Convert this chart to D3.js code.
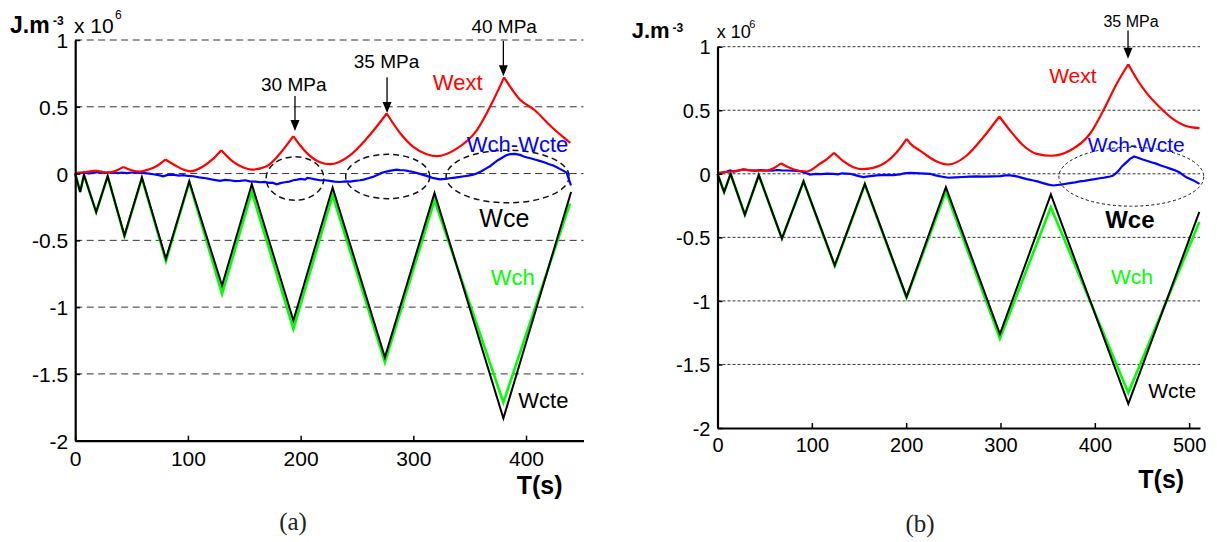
<!DOCTYPE html>
<html><head><meta charset="utf-8">
<script src="https://cdn.jsdelivr.net/npm/d3@7"></script>
<style>body{margin:0;background:#fff} svg{display:block}</style>
</head><body>
<svg id="chart" width="1217" height="542"></svg>
<script>
// ---------- data (time s, energy x 1e6 J.m^-3) ----------
const yTicks = [1, 0.5, 0, -0.5, -1, -1.5, -2];
const yTickLabels = ["1", "0.5", "0", "-0.5", "-1", "-1.5", "-2"];
const gridValues = [1, 0.5, 0, -0.5, -1, -1.5];
const xTicksA = [0, 100, 200, 300, 400];
const xTicksB = [0, 100, 200, 300, 400, 500];

// Panel (a)
const wcteA = [[0,0],[4.4,-0.138],[7.8,-0.01],[18.6,-0.288],[28.8,-0.02],[43.7,-0.463],[59.2,-0.03],[80.5,-0.638],[101.2,-0.058],[130.3,-0.838],[156.7,-0.08],[193.6,-1.1],[228.4,-0.105],[274.8,-1.375],[318.8,-0.145],[379.9,-1.833],[440,-0.138]];
const wchA = [[0,0],[4.4,-0.138],[7.8,-0.01],[18.6,-0.29],[28.8,-0.02],[43.7,-0.47],[59.2,-0.035],[80.5,-0.655],[101.2,-0.065],[130.3,-0.9],[156.7,-0.138],[193.6,-1.163],[228.4,-0.163],[274.8,-1.413],[318.8,-0.2],[379.9,-1.713],[439,-0.225]];
const wextA = [[0,0.005],[8,0.01],[18,0.022],[24,0.012],[29,0.008],[36,0.02],[42.7,0.05],[50,0.025],[57.5,0.015],[65,0.03],[72,0.055],[80,0.105],[90,0.055],[96,0.03],[101.9,0.017],[113.7,0.055],[122.5,0.112],[129.6,0.175],[140.3,0.087],[149.2,0.045],[156.6,0.03],[169.9,0.055],[181.7,0.15],[193.5,0.28],[199.5,0.212],[205.4,0.155],[217.2,0.085],[226,0.07],[243.8,0.137],[258.6,0.262],[276.4,0.45],[288.2,0.304],[300,0.2],[311.9,0.145],[320.8,0.13],[338.5,0.187],[356.3,0.324],[371,0.549],[380.5,0.72],[394.5,0.555],[407.8,0.474],[421.3,0.36],[434.9,0.26],[439.3,0.23]];
const wdiffA = [[0,0],[4,0.004],[8,0.006],[12,0.002],[16,0.005],[20,0.01],[24,0.012],[27,0.006],[30.9,0.01],[34,0.008],[38,0.004],[42,0.008],[45.7,0.004],[52,0.01],[59,0.005],[64,0.002],[69.3,-0.005],[74,-0.012],[78.2,-0.02],[82,-0.01],[87,-0.008],[92,-0.016],[96,-0.012],[100,-0.018],[104.8,-0.02],[110,-0.028],[116,-0.035],[122,-0.045],[128.5,-0.055],[133,-0.048],[137,-0.05],[142,-0.056],[146.3,-0.055],[151,-0.05],[155,-0.058],[160,-0.06],[164,-0.065],[168,-0.062],[172,-0.07],[175,-0.068],[178.8,-0.08],[182,-0.072],[186,-0.065],[190,-0.06],[193.5,-0.05],[197,-0.045],[200,-0.04],[204,-0.045],[206,-0.032],[208.3,-0.035],[212,-0.042],[217.2,-0.05],[222,-0.05],[226,-0.055],[230,-0.06],[235,-0.063],[240,-0.058],[244,-0.06],[248,-0.055],[252.7,-0.05],[256,-0.045],[260,-0.035],[264,-0.025],[267.5,-0.013],[272,0.005],[276,0.015],[280,0.022],[285.3,0.03],[288,0.026],[292,0.025],[296,0.018],[300,0.012],[305,0.0],[311.9,-0.017],[317,-0.032],[323.7,-0.043],[328,-0.04],[332,-0.035],[337,-0.03],[341.4,-0.025],[345,-0.02],[349,-0.015],[353,-0.008],[356.3,0.0],[360,0.015],[364,0.035],[368,0.055],[371,0.075],[375,0.1],[378,0.115],[382,0.135],[385.8,0.145],[390,0.148],[394.7,0.14],[398,0.128],[401,0.12],[404,0.115],[407.8,0.105],[412,0.095],[416,0.085],[420,0.072],[424.7,0.058],[430,0.035],[435.9,0.008],[439.9,-0.088]];

// Panel (b)
const wcteB = [[0,0],[7,-0.144],[13.9,0],[29,-0.322],[43.8,-0.01],[68.3,-0.51],[91.2,-0.06],[124.3,-0.72],[156.2,-0.079],[200.4,-0.969],[242.1,-0.105],[299.4,-1.262],[353.4,-0.163],[435.5,-1.81],[510.8,-0.30]];
const wchB = [[0,0],[7,-0.144],[13.9,0],[29,-0.322],[43.8,-0.01],[68.3,-0.51],[91.2,-0.06],[124.3,-0.725],[156.2,-0.085],[200.4,-0.975],[242.1,-0.14],[299.4,-1.296],[353.4,-0.263],[435.5,-1.723],[510.8,-0.38]];
const wextB = [[0,0.008],[16.8,0.02],[27.4,0.035],[39.8,0.025],[52.2,0.025],[60,0.045],[67.3,0.083],[74,0.055],[80.4,0.036],[94.6,0.018],[108.7,0.079],[116,0.115],[123.5,0.165],[133.4,0.099],[144,0.052],[154.6,0.036],[172.3,0.065],[190,0.17],[200.6,0.275],[204.1,0.24],[214.7,0.183],[221.8,0.144],[233,0.095],[244.7,0.073],[264.2,0.144],[281.8,0.288],[298.8,0.451],[310.1,0.341],[324.2,0.223],[338.4,0.157],[354.3,0.142],[373.7,0.183],[394.9,0.315],[409,0.498],[423.2,0.708],[435.5,0.862],[445,0.74],[455,0.635],[468,0.53],[485,0.42],[495,0.38],[503,0.365],[511,0.36]];
const wdiffB = [[0,0],[3,0.006],[6,0.012],[10,0.018],[13.3,0.026],[17,0.018],[20,0.02],[24,0.028],[27.4,0.034],[33,0.028],[40,0.025],[46,0.03],[52.2,0.026],[58,0.024],[63,0.03],[68,0.027],[73.4,0.026],[80,0.024],[87.5,0.02],[92,0.01],[98,-0.006],[104,0.0],[110,-0.002],[116,0.002],[122.8,0],[128,-0.004],[132,0.004],[136,0.002],[140.4,0],[146,-0.01],[150,-0.018],[154.6,-0.026],[160,-0.02],[168.8,-0.013],[174,-0.01],[180,-0.008],[186,-0.01],[193.5,-0.005],[198,0.004],[204.1,0.008],[210,0.006],[215,0.004],[220,0.002],[225.3,0],[230,-0.01],[235,-0.018],[240,-0.025],[244.7,-0.031],[252,-0.028],[260,-0.025],[267,-0.022],[274.8,-0.021],[282,-0.023],[292,-0.02],[300,-0.018],[305,-0.012],[310,-0.013],[316,-0.018],[322,-0.03],[328,-0.042],[334.8,-0.053],[340,-0.062],[346,-0.075],[351,-0.085],[356,-0.092],[360,-0.088],[364,-0.085],[368,-0.08],[373.7,-0.074],[379,-0.068],[384,-0.06],[389,-0.055],[394.9,-0.048],[400,-0.042],[405,-0.035],[410,-0.03],[416.1,-0.021],[419,-0.015],[421,-0.005],[424,0.015],[426.7,0.039],[429,0.06],[432,0.08],[435,0.1],[437.3,0.118],[441.7,0.136],[445,0.128],[450,0.115],[455,0.103],[460,0.091],[465,0.08],[470,0.065],[475,0.053],[480.5,0.039],[485,0.028],[490,0.01],[494,-0.012],[497,-0.027],[504,-0.05],[511,-0.079]];

// ---------- drawing ----------
const svg = d3.select("#chart");
const SANS = "'Liberation Sans', Arial, Helvetica, sans-serif";

function cuspPath(line, data) {
  // split at local maxima (cusps) and draw each arc smoothly
  const breaks = [0];
  for (let i = 1; i < data.length - 1; i++) {
    if (data[i][1] > data[i-1][1] && data[i][1] > data[i+1][1]) breaks.push(i);
  }
  breaks.push(data.length - 1);
  let d = "";
  for (let k = 0; k < breaks.length - 1; k++) {
    d += line(data.slice(breaks[k], breaks[k+1] + 1));
  }
  return d;
}

function drawPanel(cfg) {
  const x = d3.scaleLinear().domain(cfg.xDomain).range(cfg.xRange);
  const y = d3.scaleLinear().domain([-2, 1]).range(cfg.yRange);
  const g = svg.append("g");

  // grid
  g.selectAll("line.grid").data(gridValues).join("line")
    .attr("class", "grid")
    .attr("x1", x(0)).attr("x2", x(cfg.xDomain[1]))
    .attr("y1", d => y(d)).attr("y2", d => y(d))
    .attr("stroke", "#333").attr("stroke-width", 1)
    .attr("stroke-dasharray", cfg.gridDash);

  // ellipses
  g.selectAll("ellipse").data(cfg.ellipses).join("ellipse")
    .attr("cx", d => x(d[0])).attr("cy", d => y(d[1]))
    .attr("rx", d => x(d[0] + d[2]) - x(d[0]))
    .attr("ry", d => y(d[1] - d[3]) - y(d[1]))
    .attr("fill", "none").attr("stroke", "#111")
    .attr("stroke-width", cfg.ellipseWidth)
    .attr("stroke-dasharray", cfg.ellipseDash);

  const line = d3.line().x(d => x(d[0])).y(d => y(d[1]));
  const smooth = d3.line().x(d => x(d[0])).y(d => y(d[1])).curve(d3.curveMonotoneX);

  g.append("path").attr("d", line(cfg.wch)).attr("fill", "none")
    .attr("stroke", "#00ff00").attr("stroke-width", 2.6).attr("stroke-linejoin", "miter");
  g.append("path").attr("d", line(cfg.wcte)).attr("fill", "none")
    .attr("stroke", "#000").attr("stroke-width", 2).attr("stroke-linejoin", "miter");
  g.append("path").attr("d", line(cfg.wdiff)).attr("fill", "none")
    .attr("stroke", "#0000ff").attr("stroke-width", 2.2);
  g.append("path").attr("d", cuspPath(smooth, cfg.wext)).attr("fill", "none")
    .attr("stroke", "#ff0000").attr("stroke-width", 2.2);

  // axes
  const yAxis = d3.axisLeft(y).tickValues(yTicks)
    .tickFormat((d, i) => yTickLabels[i])
    .tickSizeInner(-5).tickSizeOuter(0).tickPadding(cfg.yPad);
  const ya = g.append("g").attr("transform", `translate(${x(0)},0)`).call(yAxis);
  const xAxis = d3.axisBottom(x).tickValues(cfg.xTicks)
    .tickFormat(d3.format("d"))
    .tickSizeInner(-5).tickSizeOuter(0).tickPadding(cfg.xPad);
  const xa = g.append("g").attr("transform", `translate(0,${y(-2)})`).call(xAxis);
  [ya, xa].forEach(a => {
    a.attr("font-family", SANS).attr("font-size", cfg.tickFont);
    a.select(".domain").attr("stroke", "#000").attr("stroke-width", 2.2);
    a.selectAll(".tick line").attr("stroke", "#000").attr("stroke-width", 1.5);
    a.selectAll(".tick text").attr("fill", "#000");
  });
  ya.selectAll(".tick text").attr("dy", "0.36em");

  // arrows with pressure labels
  cfg.arrows.forEach(a => {
    const ax = x(a.t), y0 = y(a.tail), y1 = y(a.tip);
    g.append("line").attr("x1", ax).attr("x2", ax).attr("y1", y0).attr("y2", y1 - 9)
      .attr("stroke", "#000").attr("stroke-width", 1.3);
    g.append("path")
      .attr("d", `M${ax - 4.5},${y1 - 11}L${ax + 4.5},${y1 - 11}L${ax},${y1}Z`)
      .attr("fill", "#000");
    g.append("text").attr("x", x(a.textT)).attr("y", y(a.textY))
      .attr("text-anchor", "middle").attr("font-family", SANS)
      .attr("font-size", cfg.mpaFont).attr("fill", "#000").text(a.label);
  });

  // series labels
  cfg.labels.forEach(l => {
    g.append("text").attr("x", x(l.t)).attr("y", y(l.v))
      .attr("font-family", SANS).attr("font-size", l.size)
      .attr("font-weight", l.bold ? "bold" : "normal")
      .attr("fill", l.color).text(l.text);
  });

  // unit label, multiplier, axis title, panel letter
  const u = cfg.unit;
  g.append("text").attr("x", u.jx).attr("y", u.jy).attr("font-family", SANS)
    .attr("font-weight", "bold").attr("font-size", u.jSize).text("J.m");
  g.append("text").attr("x", u.sx).attr("y", u.sy).attr("font-family", SANS)
    .attr("font-weight", "bold").attr("font-size", u.sSize).text("-3");
  g.append("text").attr("x", u.mx).attr("y", u.my).attr("font-family", SANS)
    .attr("font-size", u.mSize).text("x 10");
  g.append("text").attr("x", u.ex).attr("y", u.ey).attr("font-family", SANS)
    .attr("font-size", u.eSize).text("6");
  g.append("text").attr("x", cfg.title.x).attr("y", cfg.title.y).attr("font-family", SANS)
    .attr("font-weight", "bold").attr("font-size", 25).text("T(s)");
  g.append("text").attr("x", cfg.letter.x).attr("y", cfg.letter.y)
    .attr("text-anchor", "middle")
    .attr("font-family", "'Liberation Serif', 'DejaVu Serif', serif")
    .attr("font-size", 25).attr("fill", "#222").text(cfg.letter.text);
}

drawPanel({
  xDomain: [0, 451], xRange: [75.2, 583.5], yRange: [440.7, 40],
  xTicks: xTicksA, gridDash: "7,4.5", ellipseDash: "6,4", ellipseWidth: 1.5,
  tickFont: 21, yPad: 7, xPad: 10, mpaFont: 19,
  wcte: wcteA, wch: wchA, wext: wextA, wdiff: wdiffA,
  ellipses: [[195, -0.037, 25.6, 0.163], [277.3, -0.022, 37.3, 0.166], [383.7, -0.022, 54.6, 0.197]],
  arrows: [
    {label: "30 MPa", t: 195, tail: 0.581, tip: 0.319, textT: 193.9, textY: 0.619},
    {label: "35 MPa", t: 276.7, tail: 0.721, tip: 0.454, textT: 276.2, textY: 0.787},
    {label: "40 MPa", t: 379.9, tail: 0.993, tip: 0.729, textT: 380.6, textY: 1.056}
  ],
  labels: [
    {text: "Wext", t: 317.3, v: 0.629, size: 22, color: "#ff0000"},
    {text: "Wch-Wcte", t: 347.5, v: 0.162, size: 22, color: "#0000ff"},
    {text: "Wce", t: 358.6, v: -0.4, size: 25, color: "#000"},
    {text: "Wch", t: 368.8, v: -0.837, size: 22, color: "#00ff00"},
    {text: "Wcte", t: 393.2, v: -1.753, size: 22, color: "#000"}
  ],
  unit: {jx: 10, jy: 33.3, jSize: 23, sx: 53, sy: 25, sSize: 12,
         mx: 74, my: 33.3, mSize: 21, ex: 115, ey: 18.5, eSize: 12},
  title: {x: 516.7, y: 494},
  letter: {x: 293, y: 530, text: "(a)"}
});

drawPanel({
  xDomain: [0, 511.5], xRange: [717.5, 1200], yRange: [428, 46.7],
  xTicks: xTicksB, gridDash: "3,2", ellipseDash: "3,2.5", ellipseWidth: 1,
  tickFont: 20, yPad: 7, xPad: 9.5, mpaFont: 16,
  wcte: wcteB, wch: wchB, wext: wextB, wdiff: wdiffB,
  ellipses: [[438.7, -0.023, 76.8, 0.232]],
  arrows: [
    {label: "35 MPa", t: 435.2, tail: 1.127, tip: 0.905, textT: 438.4, textY: 1.153}
  ],
  labels: [
    {text: "Wext", t: 351.6, v: 0.713, size: 21, color: "#ff0000"},
    {text: "Wch-Wcte", t: 392.6, v: 0.17, size: 21, color: "#0000ff"},
    {text: "Wce", t: 411, v: -0.428, size: 24, bold: true, color: "#000"},
    {text: "Wch", t: 417.2, v: -0.865, size: 21, color: "#00ff00"},
    {text: "Wcte", t: 456.7, v: -1.762, size: 21, color: "#000"}
  ],
  unit: {jx: 631.7, jy: 37.7, jSize: 22, sx: 672.5, sy: 32, sSize: 12,
         mx: 716.7, my: 37.7, mSize: 18, ex: 749.3, ey: 28, eSize: 11},
  title: {x: 1138.3, y: 488.3},
  letter: {x: 920, y: 531.7, text: "(b)"}
});
</script>
</body></html>
